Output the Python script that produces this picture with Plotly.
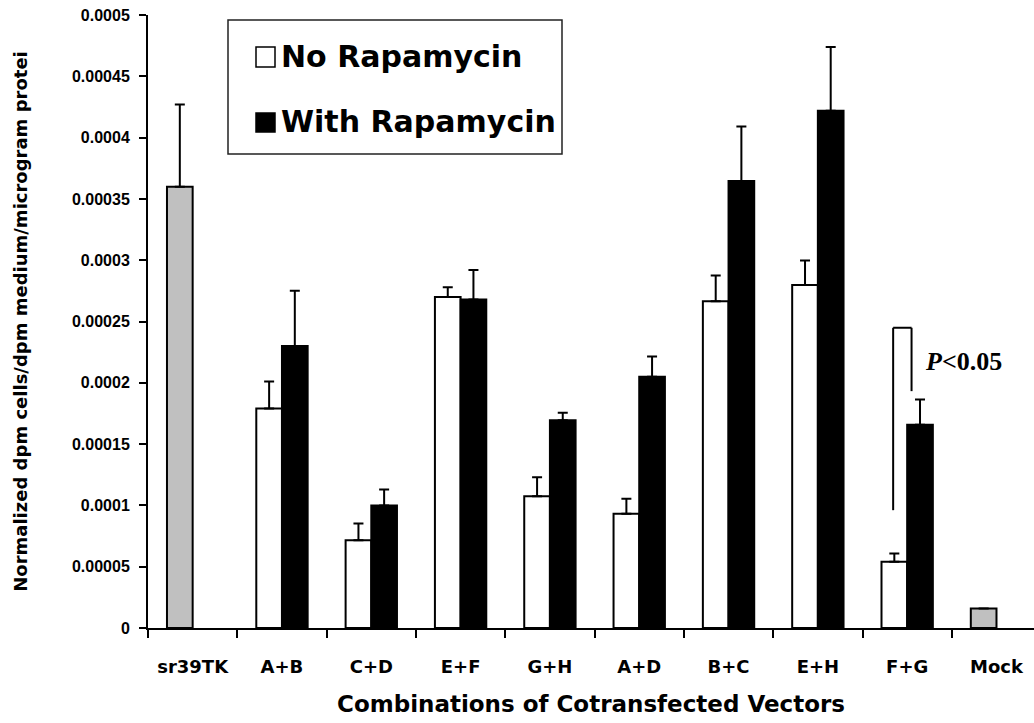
import plotly.graph_objects as go

categories = ["sr39TK", "A+B", "C+D", "E+F", "G+H", "A+D", "B+C", "E+H", "F+G", "Mock"]

no_rapamycin = [None, 0.000179, 0.0000716, 0.000270, 0.0001075, 0.0000931, 0.0002666, 0.0002797, 0.000054, None]
no_rapamycin_err = [0, 0.000022, 0.0000136, 0.000008, 0.0000155, 0.0000123, 0.0000209, 0.0000201, 0.0000068, 0]

with_rapamycin = [None, 0.000230, 0.000100, 0.000268, 0.0001695, 0.000205, 0.0003645, 0.000422, 0.0001657, None]
with_rapamycin_err = [0, 0.000045, 0.000013, 0.000024, 0.000006, 0.0000165, 0.0000445, 0.000052, 0.0000207, 0]

controls = [0.000360, None, None, None, None, None, None, None, None, 0.0000159]
controls_err = [0.000067, 0, 0, 0, 0, 0, 0, 0, 0, 0]

y_tickvals = [0, 0.00005, 0.0001, 0.00015, 0.0002, 0.00025, 0.0003, 0.00035, 0.0004, 0.00045, 0.0005]
y_ticktext = ["0", "0.00005", "0.0001", "0.00015", "0.0002", "0.00025", "0.0003", "0.00035", "0.0004", "0.00045", "0.0005"]

# significance bracket (F+G) and its label
bracket_x = [7.843, 8.049]
bracket_y = [0.0000961, 0.0002449, 0.0001932]
sig_label = "<b><i>P</i>&lt;0.05</b>"
sig_pos = (8.176, 0.000217)

FONT = "DejaVu Sans"


def err(arr):
    return dict(type="data", array=arr, arrayminus=[0] * len(arr), symmetric=False,
                color="black", thickness=2, width=5)


fig = go.Figure()
fig.add_trace(go.Bar(x=categories, y=no_rapamycin, name="No Rapamycin", offsetgroup="no",
                     marker=dict(color="white", line=dict(color="black", width=2)),
                     error_y=err(no_rapamycin_err), showlegend=False))
fig.add_trace(go.Bar(x=categories, y=controls, name="Controls", offsetgroup="no",
                     marker=dict(color="#c0c0c0", line=dict(color="black", width=2)),
                     error_y=err(controls_err), showlegend=False))
fig.add_trace(go.Bar(x=categories, y=with_rapamycin, name="With Rapamycin", offsetgroup="with",
                     marker=dict(color="black", line=dict(color="black", width=2)),
                     error_y=err(with_rapamycin_err), showlegend=False))

# plot area geometry helpers (paper coords)
L, R, T, B, W, H = 148, 0, 15, 95, 1034, 723
pw, ph = W - L - R, H - T - B


def px(x):
    return (x - L) / pw


def py(y):
    return (H - B - y) / ph


shapes = []
# legend box
shapes.append(dict(type="rect", xref="paper", yref="paper", x0=px(228), x1=px(562), y0=py(154), y1=py(20),
                   line=dict(color="#222", width=1.5), fillcolor="white", layer="above"))
shapes.append(dict(type="rect", xref="paper", yref="paper", x0=px(256), x1=px(275), y0=py(67), y1=py(47),
                   line=dict(color="black", width=1.5), fillcolor="white", layer="above"))
shapes.append(dict(type="rect", xref="paper", yref="paper", x0=px(256), x1=px(275), y0=py(132), y1=py(113),
                   line=dict(color="black", width=1.5), fillcolor="black", layer="above"))
# bracket
lw = dict(color="black", width=2)
shapes.append(dict(type="line", xref="x", yref="y", x0=bracket_x[0], x1=bracket_x[0], y0=bracket_y[0], y1=bracket_y[1], line=lw))
shapes.append(dict(type="line", xref="x", yref="y", x0=bracket_x[0], x1=bracket_x[1], y0=bracket_y[1], y1=bracket_y[1], line=lw))
shapes.append(dict(type="line", xref="x", yref="y", x0=bracket_x[1], x1=bracket_x[1], y0=bracket_y[1], y1=bracket_y[2], line=lw))

annotations = [
    dict(text="No Rapamycin", xref="paper", yref="paper", x=px(279), y=py(57), xanchor="left", yanchor="middle",
         showarrow=False, font=dict(family=FONT, size=30, color="black", weight="bold")),
    dict(text="With Rapamycin", xref="paper", yref="paper", x=px(279), y=py(122), xanchor="left", yanchor="middle",
         showarrow=False, font=dict(family=FONT, size=30, color="black", weight="bold")),
    dict(text=sig_label, xref="x", yref="y", x=sig_pos[0], y=sig_pos[1], xanchor="left", yanchor="middle",
         showarrow=False, font=dict(family="Liberation Serif", size=26, color="black")),
]

fig.update_layout(
    width=W, height=H,
    margin=dict(l=L, r=R, t=T, b=B, pad=0),
    paper_bgcolor="white", plot_bgcolor="white",
    barmode="group", bargap=0.425, bargroupgap=0,
    shapes=shapes, annotations=annotations,
    showlegend=False,
)
fig.update_xaxes(
    type="category", range=[-0.5, 9.42], tickson="boundaries",
    showline=True, linecolor="black", linewidth=2,
    ticks="outside", ticklen=8, tickwidth=2, tickcolor="black",
    showgrid=False, ticklabelstandoff=21,
    tickfont=dict(family=FONT, size=18, color="black", weight="bold"),
    title=dict(text="Combinations of Cotransfected Vectors", standoff=20,
               font=dict(family=FONT, size=23, color="black", weight="bold")),
)
fig.update_yaxes(
    range=[0, 0.0005], tickvals=y_tickvals, ticktext=y_ticktext,
    showline=True, linecolor="black", linewidth=2,
    ticks="outside", ticklen=7, tickwidth=2, tickcolor="black",
    showgrid=False, zeroline=False, ticklabelstandoff=6,
    tickfont=dict(family="Liberation Sans", size=16, color="black", weight="bold"),
    title=dict(text="Normalized dpm cells/dpm medium/microgram protei", standoff=40,
               font=dict(family=FONT, size=18, color="black", weight="bold")),
)

fig.write_html("out.html")
